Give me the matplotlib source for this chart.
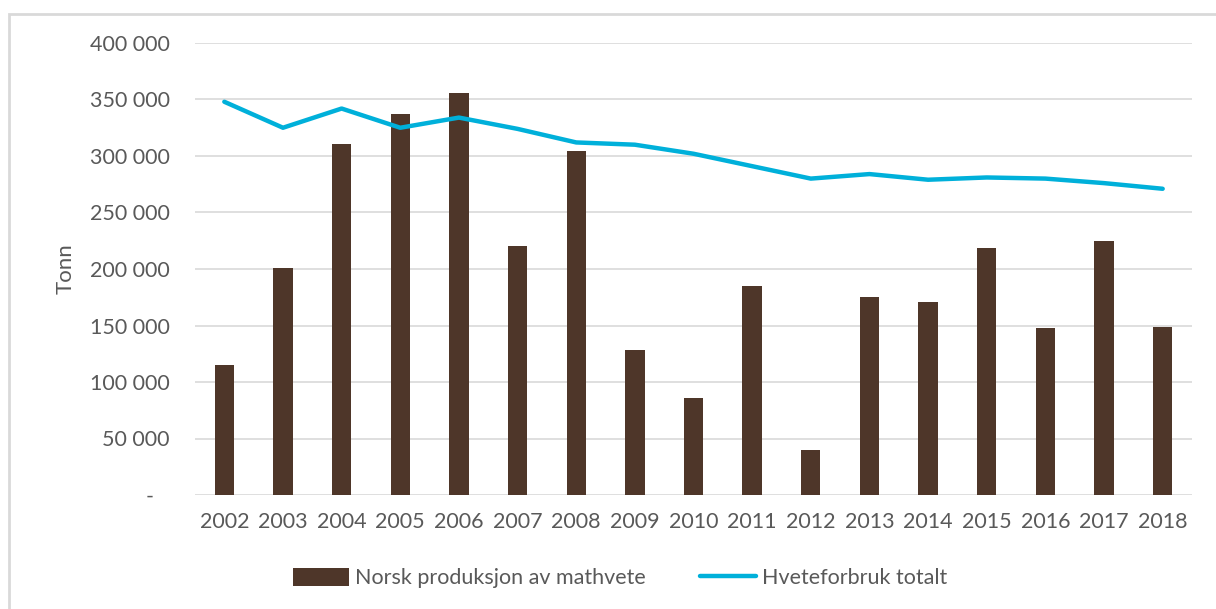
import matplotlib
matplotlib.use("Agg")
import matplotlib.pyplot as plt
from matplotlib.patches import Rectangle
import numpy as np

years = ["2002", "2003", "2004", "2005", "2006", "2007", "2008", "2009", "2010",
         "2011", "2012", "2013", "2014", "2015", "2016", "2017", "2018"]
produksjon = [115000, 201000, 311000, 337000, 356000, 220000, 304000, 128000, 86000,
              185000, 40000, 175000, 171000, 219000, 148000, 225000, 149000]
forbruk = [348000, 325000, 342000, 325000, 334000, 324000, 312000, 310000, 302000,
           291000, 280000, 284000, 279000, 281000, 280000, 276000, 271000]
yticks = [0, 50000, 100000, 150000, 200000, 250000, 300000, 350000, 400000]
ytick_labels = ["-   ", "50 000", "100 000", "150 000", "200 000", "250 000",
                "300 000", "350 000", "400 000"]

plt.rcParams['font.family'] = ['Lato', 'DejaVu Sans']
W, H = 1216, 609
fig = plt.figure(figsize=(W / 100, H / 100), dpi=100)
fig.patches.append(Rectangle((9 / W, -0.01), 1.02, 1 - 14 / H + 0.01, transform=fig.transFigure,
                             fill=False, edgecolor="#D9D9D9", linewidth=2))
ax = fig.add_axes([195 / W, 114 / H, (1192 - 195) / W, (495 - 43) / H])

x = np.arange(len(years))
bar_col = "#4E3629"
line_col = "#00B0DA"
b = ax.bar(x, produksjon, width=0.33, color=bar_col, label="Norsk produksjon av mathvete", zorder=2)
l, = ax.plot(x, forbruk, color=line_col, linewidth=3.2, label="Hveteforbruk totalt", zorder=3,
             solid_capstyle="round")

ax.set_xlim(-0.5, len(years) - 0.5)
ax.set_ylim(0, 400000)
ax.set_yticks(yticks)
ax.set_yticklabels(ytick_labels)
ax.set_xticks(x)
ax.set_xticklabels(years)
ax.grid(axis="y", color="#D9D9D9", linewidth=1.2, zorder=0)
ax.set_axisbelow(True)
for s in ax.spines.values():
    s.set_visible(False)
ax.tick_params(axis="both", length=0, colors="#595959", labelsize=15.5)
ax.tick_params(axis="y", pad=18)
ax.tick_params(axis="x", pad=12)
ax.set_ylabel("Tonn", fontsize=16, color="#595959", labelpad=10)

leg = fig.legend([b, l], ["Norsk produksjon av mathvete", "Hveteforbruk totalt"],
                 loc="center", bbox_to_anchor=(620 / W, 1 - 578 / H), ncol=2, frameon=False,
                 fontsize=15.5, labelcolor="#595959", handlelength=2.6, handleheight=0.9,
                 columnspacing=2.5, handletextpad=0.3)
fig.savefig("out.png", dpi=100)
